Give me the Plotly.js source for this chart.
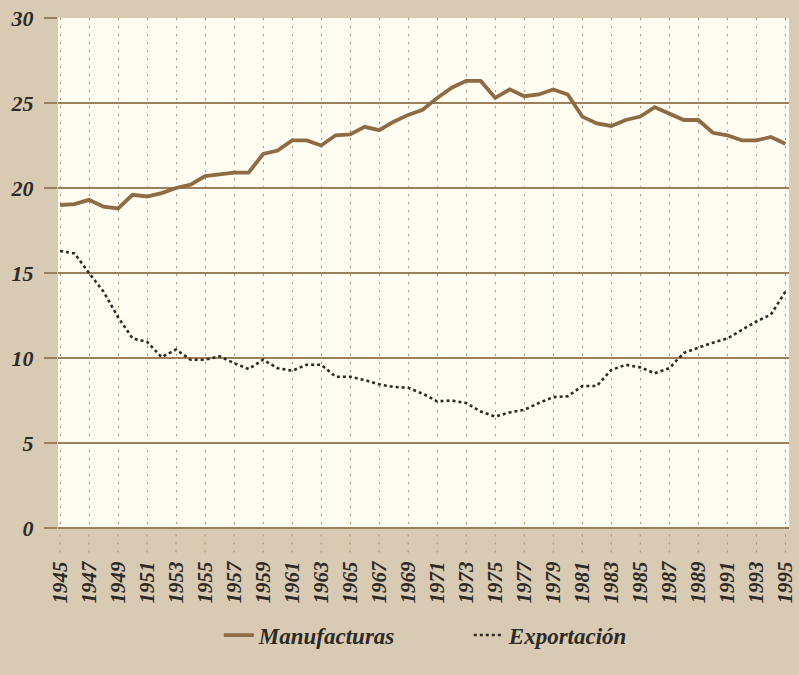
<!DOCTYPE html>
<html>
<head>
<meta charset="utf-8">
<script src="https://cdn.plot.ly/plotly-3.0.1.min.js"></script>
<style>html,body{margin:0;padding:0;background:#d8cab3;}#chart{width:799px;height:675px;}</style>
</head>
<body>
<div id="chart"></div>
<script>
const years = [];
for (let y = 1945; y <= 1995; y++) years.push(y);

const manufacturas = [19.0, 19.05, 19.3, 18.9, 18.8, 19.6, 19.5, 19.7, 20.0, 20.2,
  20.7, 20.8, 20.9, 20.9, 22.0, 22.2, 22.8, 22.8, 22.5, 23.1,
  23.15, 23.6, 23.4, 23.9, 24.3, 24.6, 25.3, 25.9, 26.3, 26.3,
  25.3, 25.8, 25.4, 25.5, 25.8, 25.5, 24.2, 23.8, 23.65, 24.0,
  24.2, 24.75, 24.4, 24.0, 24.0, 23.25, 23.1, 22.8, 22.8, 23.0, 22.6];

const exportacion = [16.3, 16.15, 15.0, 13.9, 12.4, 11.15, 10.95, 10.05, 10.5, 9.9,
  9.9, 10.1, 9.7, 9.35, 9.9, 9.4, 9.25, 9.6, 9.6, 8.9,
  8.9, 8.7, 8.45, 8.3, 8.25, 7.9, 7.45, 7.5, 7.35, 6.85,
  6.55, 6.8, 6.95, 7.35, 7.7, 7.75, 8.35, 8.35, 9.3, 9.6,
  9.45, 9.1, 9.4, 10.3, 10.6, 10.9, 11.15, 11.65, 12.15, 12.55, 13.9];

const tickYears = [];
for (let y = 1945; y <= 1995; y += 2) tickYears.push(y);
const tickLabels = tickYears.map(String);
const yTicks = [0, 5, 10, 15, 20, 25, 30];

const serif = "Liberation Serif, DejaVu Serif, serif";
const gridBrown = "#9c7f5c";
const textCol = "#2e2a27";

const traces = [
  {x: years, y: manufacturas, name: "Manufacturas", type: "scatter", mode: "lines",
   line: {color: "#8e6a45", width: 3.8}},
  {x: years, y: exportacion, name: "Exportación", type: "scatter", mode: "lines",
   line: {color: "#2f2a26", width: 2.6, dash: "dot"}}
];

const shapes = tickYears.map(yr => ({
  type: "line", xref: "x", yref: "paper", x0: yr, x1: yr, y0: -0.048, y1: 0,
  line: {color: "#a88f6e", width: 1, dash: "2px,6px"}, layer: "below"
}));

const layout = {
  width: 799, height: 675,
  paper_bgcolor: "#d8cab3",
  plot_bgcolor: "#fffdf1",
  margin: {l: 58, r: 10, t: 18, b: 147},
  showlegend: true,
  legend: {orientation: "h", x: 0.22, xanchor: "left", y: -0.21, yanchor: "middle",
    entrywidth: 205, entrywidthmode: "pixels",
    bgcolor: "rgba(0,0,0,0)",
    font: {family: serif, size: 23, color: textCol, style: "italic", weight: "bold"}},
  xaxis: {
    range: [1944.86, 1995.25],
    tickmode: "array", tickvals: tickYears, ticktext: tickLabels,
    tickangle: -90, ticklabeloverflow: "allow",
    ticks: "outside", ticklen: 24, tickcolor: "rgba(0,0,0,0)",
    tickfont: {family: serif, size: 21, color: textCol, style: "italic", weight: "bold"},
    showgrid: true, gridcolor: "#a88f6e", gridwidth: 1, griddash: "2px,6px",
    zeroline: false, showline: false, fixedrange: true
  },
  yaxis: {
    range: [0, 30],
    tickmode: "array", tickvals: yTicks, ticktext: yTicks.map(String),
    ticks: "outside", ticklen: 13, tickcolor: gridBrown, tickwidth: 1.6,
    ticklabelstandoff: 6,
    tickfont: {family: serif, size: 22, color: textCol, style: "italic", weight: "bold"},
    showgrid: true, gridcolor: gridBrown, gridwidth: 1.6,
    zeroline: true, zerolinecolor: gridBrown, zerolinewidth: 1.6,
    showline: false, fixedrange: true
  },
  shapes: shapes
};

Plotly.newPlot("chart", traces, layout, {displayModeBar: false, staticPlot: true});
</script>
</body>
</html>
